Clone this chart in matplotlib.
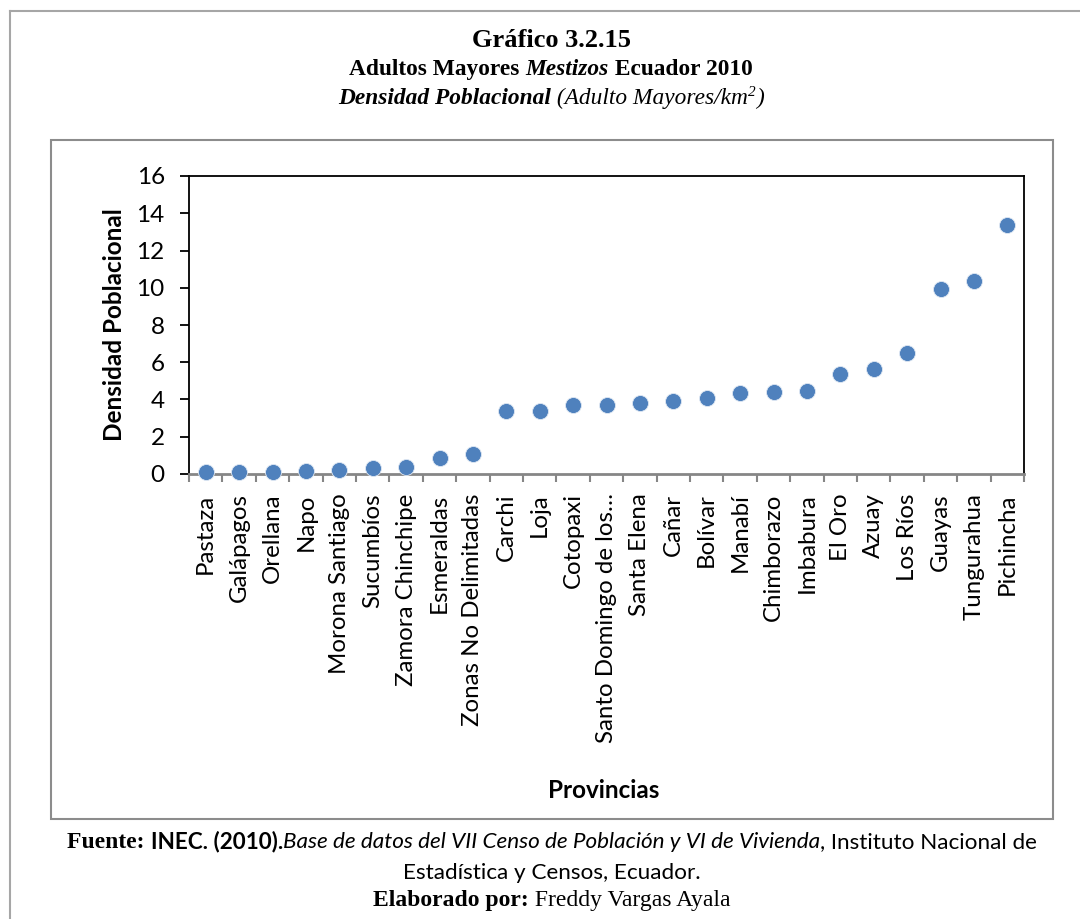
import matplotlib
matplotlib.use("Agg")
import matplotlib.pyplot as plt
from matplotlib.patches import Rectangle
from matplotlib.lines import Line2D

provincias = ["Pastaza", "Galápagos", "Orellana", "Napo", "Morona Santiago", "Sucumbíos",
              "Zamora Chinchipe", "Esmeraldas", "Zonas No Delimitadas", "Carchi", "Loja",
              "Cotopaxi", "Santo Domingo de los…", "Santa Elena", "Cañar", "Bolívar",
              "Manabí", "Chimborazo", "Imbabura", "El Oro", "Azuay", "Los Ríos",
              "Guayas", "Tungurahua", "Pichincha"]
densidad = [0.10, 0.10, 0.12, 0.17, 0.20, 0.30, 0.37, 0.86, 1.09, 3.39, 3.39,
            3.68, 3.68, 3.82, 3.91, 4.07, 4.34, 4.38, 4.48, 5.37, 5.64, 6.52,
            9.93, 10.38, 13.37]
yticks = [0, 2, 4, 6, 8, 10, 12, 14, 16]

W, H = 1080, 919
fig = plt.figure(figsize=(W / 100, H / 100), dpi=100)
SANS = "Lato"
SERIF = "Liberation Serif"

# outer frame (left & top visible)
fig.add_artist(Line2D([10 / W, 10 / W], [0, 1 - 11 / H], transform=fig.transFigure, color="#a6a6a6", lw=1.5))
fig.add_artist(Line2D([10 / W, 1], [1 - 11 / H, 1 - 11 / H], transform=fig.transFigure, color="#a6a6a6", lw=1.5))
# chart area frame
fig.add_artist(Rectangle((51 / W, 1 - 819 / H), (1053 - 51) / W, (819 - 140) / H,
                         transform=fig.transFigure, fill=False, edgecolor="#8c8c8c", lw=1.5))

ax = fig.add_axes([189 / W, 1 - 474 / H, (1024 - 189) / W, (474 - 176) / H])
x = list(range(len(provincias)))
ax.plot(x, densidad, linestyle="none", marker="o", markersize=11.5,
        markerfacecolor="#4F81BD", markeredgecolor="#dfe8f3", markeredgewidth=0.6, zorder=3, clip_on=False)
ax.set_xlim(-0.5, len(provincias) - 0.5)
ax.set_ylim(0, 16)
ax.set_yticks(yticks)
ax.set_yticklabels([str(v) for v in yticks], fontsize=17.5, family=SANS)
ax.set_xticks(x)
ax.set_xticklabels(provincias, rotation=90, fontsize=17.3, family=SANS, ha="center", va="top")
ax.set_xticks([i - 0.5 for i in range(len(provincias) + 1)], minor=True)
ax.tick_params(axis="x", which="major", length=0, pad=14)
ax.tick_params(axis="x", which="minor", length=6, width=1.5, color="#868686", direction="out")
ax.tick_params(axis="y", length=6.5, width=1.3, color="black", direction="out", pad=11)
for s in ["left", "top", "right"]:
    ax.spines[s].set_color("black")
    ax.spines[s].set_linewidth(1.3)
ax.spines["bottom"].set_color("#868686")
ax.spines["bottom"].set_linewidth(2)
ax.spines["bottom"].set_zorder(2.5)

fig.text(115 / W, 1 - 325 / H, "Densidad Poblacional", rotation=90, fontsize=17.5, fontweight="bold",
         family=SANS, ha="center", va="center")
fig.text(604 / W, 1 - 790 / H, "Provincias", fontsize=17.5, fontweight="bold", family=SANS,
         ha="center", va="center")

renderer = fig.canvas.get_renderer()


def line_pieces(pieces, cx, cy):
    """pieces: list of (text, kwargs[, dy]). Centred horizontally at cx px, baseline at cy px."""
    arts = []
    for p in pieces:
        txt, kw = p[0], p[1]
        dy = p[2] if len(p) > 2 else 0
        t = fig.text(0, 0, txt, va="baseline", ha="left", **kw)
        arts.append((t, dy))
    widths = [a.get_window_extent(renderer).width for a, _ in arts]
    total = sum(widths)
    xpos = cx - total / 2
    for (a, dy), w in zip(arts, widths):
        a.set_position((xpos / W, 1 - (cy - dy) / H))
        xpos += w


line_pieces([("Gráfico 3.2.15", dict(family=SERIF, fontweight="bold", fontsize=19))], 551, 47)
ser_b2 = dict(family=SERIF, fontweight="bold", fontsize=16.8)
line_pieces([("Adultos Mayores ", ser_b2),
             ("Mestizos", dict(family=SERIF, fontweight="bold", style="italic", fontsize=16.8)),
             (" Ecuador 2010", ser_b2)], 551, 75)
it = dict(family=SERIF, style="italic", fontsize=16.8)
line_pieces([("Densidad Poblacional", dict(family=SERIF, fontweight="bold", style="italic", fontsize=16.8)),
             (" (Adulto Mayores/km", it),
             ("2", dict(family=SERIF, style="italic", fontsize=11), 8),
             (")", it)], 551, 104)

fs = 16.2
fser = 17
line_pieces([("Fuente: ", dict(family=SERIF, fontweight="bold", fontsize=fser)),
             ("INEC. (2010).", dict(family=SANS, fontweight="bold", fontsize=fs)),
             ("Base de datos del VII Censo de Población y VI de Vivienda", dict(family=SANS, style="italic", fontsize=fs)),
             (", Instituto Nacional de", dict(family=SANS, fontsize=fs))], 552, 848)
line_pieces([("Estadística y Censos, Ecuador.", dict(family=SANS, fontsize=fs))], 552, 879)
line_pieces([("Elaborado por:", dict(family=SERIF, fontweight="bold", fontsize=fser)),
             (" Freddy Vargas Ayala", dict(family=SERIF, fontsize=fser))], 552, 906)

fig.savefig("out.png", dpi=100)
